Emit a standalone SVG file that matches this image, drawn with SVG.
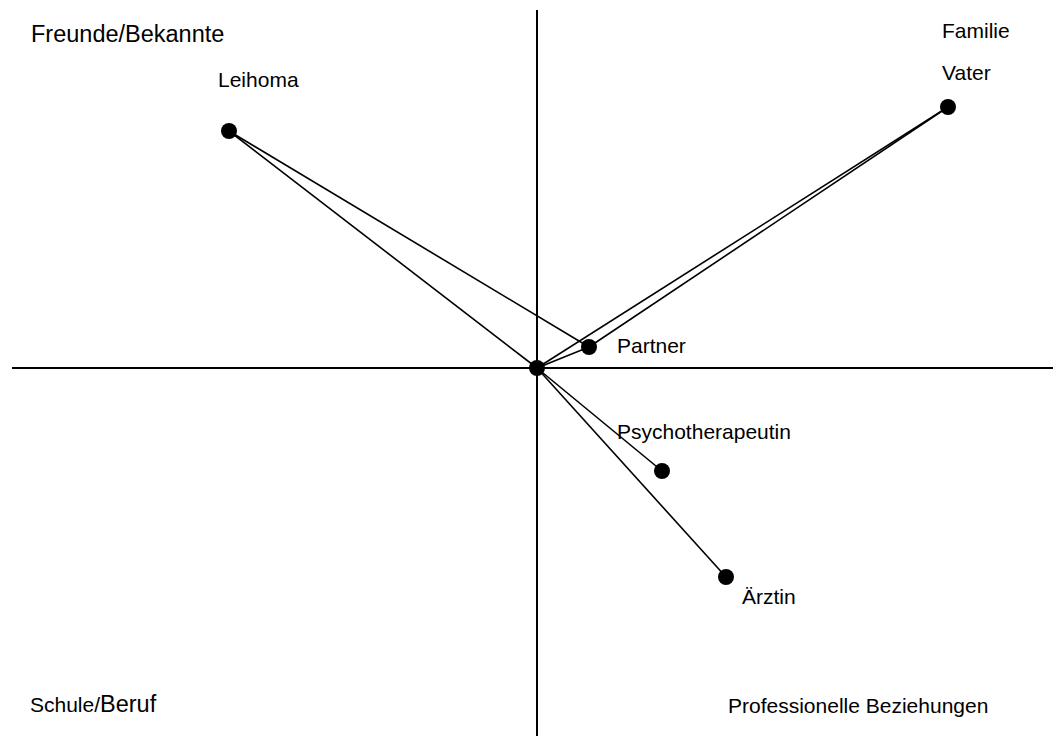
<svg xmlns="http://www.w3.org/2000/svg" width="1053" height="736" viewBox="0 0 1053 736">
<style>
text{font-family:"Liberation Sans",Arial,sans-serif;fill:#000}
.s{font-size:21px}
.l{font-size:23.5px}
.ax{stroke:#000;stroke-width:2}
.c{stroke:#000;stroke-width:1.6;fill:none}
.d{fill:#000}
</style>
<rect width="1053" height="736" fill="#fff"/>
<g id="axes">
<line class="ax" x1="537" y1="10" x2="537" y2="736"/>
<line class="ax" x1="12" y1="368" x2="1053" y2="368"/>
</g>
<g id="quadrant-labels">
<text class="l" x="31" y="42">Freunde/Bekannte</text>
<text class="s" x="942" y="38">Familie</text>
<text x="30" y="712"><tspan class="s">Schule/</tspan><tspan class="l">Beruf</tspan></text>
<text class="s" x="728" y="713">Professionelle Beziehungen</text>
</g>
<g id="connectors">
<line class="c" x1="229" y1="131" x2="537" y2="368"/>
<line class="c" x1="229" y1="131" x2="589" y2="347"/>
<line class="c" x1="948" y1="107" x2="537" y2="368"/>
<line class="c" x1="948" y1="107" x2="589" y2="347"/>
<line class="c" x1="537" y1="368" x2="589" y2="347"/>
<line class="c" x1="537" y1="368" x2="662" y2="471"/>
<line class="c" x1="537" y1="368" x2="726" y2="577"/>
</g>
<g id="center"><circle class="d" cx="537" cy="368" r="8"/></g>
<g id="leihoma"><circle class="d" cx="229" cy="131" r="8"/><text class="s" x="218" y="87">Leihoma</text></g>
<g id="vater"><circle class="d" cx="948" cy="107" r="8"/><text class="s" x="942" y="80">Vater</text></g>
<g id="partner"><circle class="d" cx="589" cy="347" r="8"/><text class="s" x="617" y="353">Partner</text></g>
<g id="psychotherapeutin"><circle class="d" cx="662" cy="471" r="8"/><text class="s" x="617" y="439">Psychotherapeutin</text></g>
<g id="aerztin"><circle class="d" cx="726" cy="577" r="8"/><text class="s" x="742" y="604">Ärztin</text></g>
</svg>
